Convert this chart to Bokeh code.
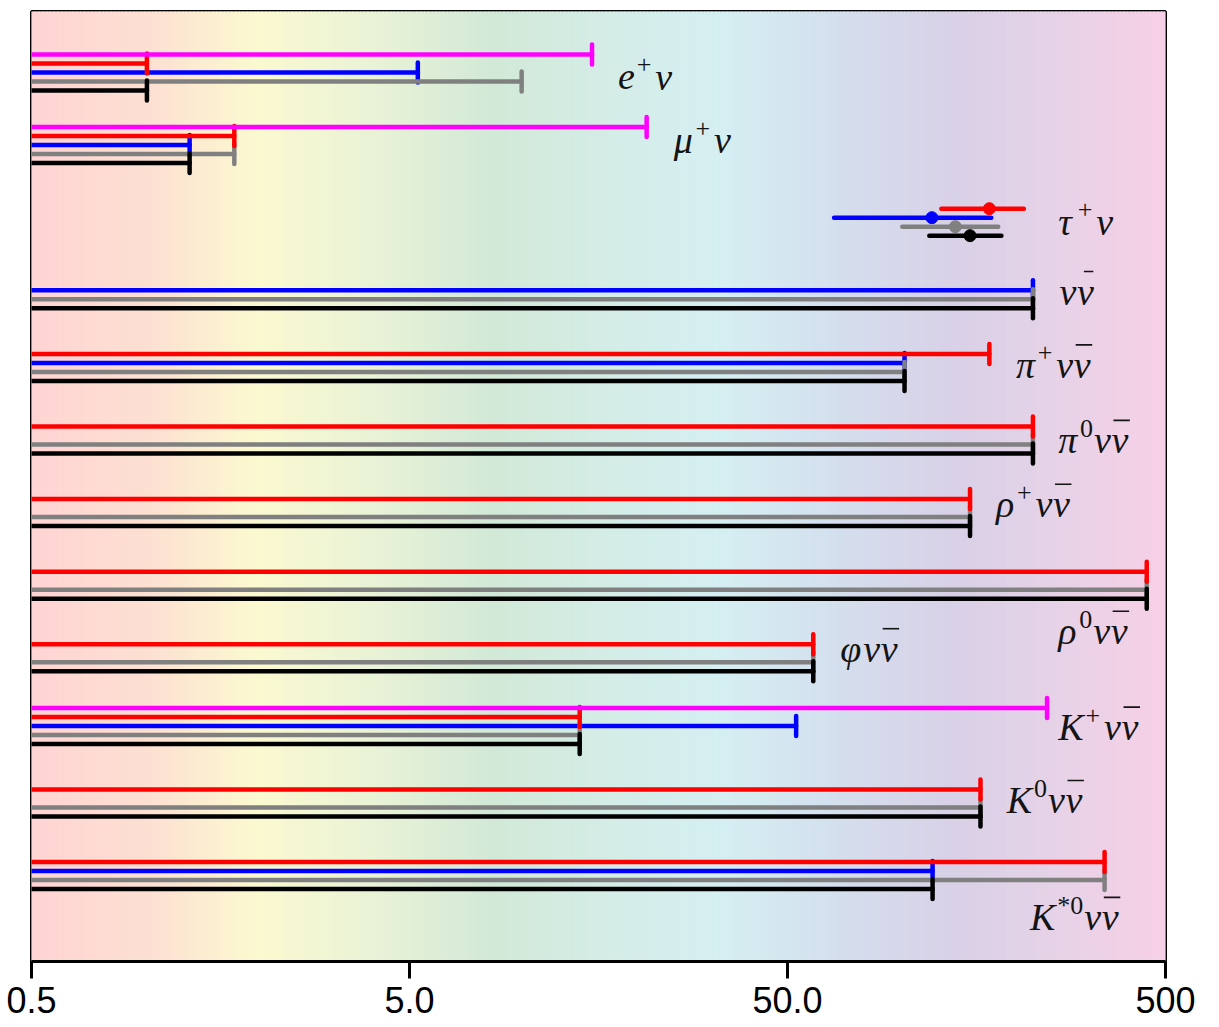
import numpy as np
from bokeh.plotting import figure
from bokeh.models import Range1d, FixedTicker, CustomJSTickFormatter
from bokeh.embed import file_html
from bokeh.resources import INLINE
from bokeh.core.properties import value

nan = float("nan")

# ---- data -------------------------------------------------------------
channels = ["e⁺ν", "μ⁺ν", "τ⁺ν", "νν̄", "π⁺νν̄", "π⁰νν̄",
            "ρ⁺νν̄", "ρ⁰νν̄", "φνν̄", "K⁺νν̄", "K⁰νν̄", "K*⁰νν̄"]
# label pieces: n = normal, s = superscript, b = overlined, m = short bar
label_parts = [
    [("e", "n"), ("+", "s"), ("ν", "n")],
    [("μ", "n"), ("+", "s"), ("ν", "n")],
    [("τ", "n"), ("+", "s"), ("ν", "n")],
    [("ν", "n"), ("ν", "m")],
    [("π", "n"), ("+", "s"), ("ν", "n"), ("ν", "b")],
    [("π", "n"), ("0", "s"), ("ν", "n"), ("ν", "b")],
    [("ρ", "n"), ("+", "s"), ("ν", "n"), ("ν", "b")],
    [("ρ", "n"), ("0", "s"), ("ν", "n"), ("ν", "b")],
    [("φ", "n"), ("ν", "n"), ("ν", "b")],
    [("K", "n"), ("+", "s"), ("ν", "n"), ("ν", "b")],
    [("K", "n"), ("0", "s"), ("ν", "n"), ("ν", "b")],
    [("K", "n"), ("*0", "s"), ("ν", "n"), ("ν", "b")],
]

# upper limits per channel for each series (nan = not shown)
limits_magenta = [15.2, 21.2, nan, nan, nan, nan, nan, nan, nan, 243, nan, nan]
limits_red     = [1.01, 1.72, nan, nan, 171, 223, 152, 446, 58.5, 14.1, 162, 345]
limits_blue    = [5.26, 1.31, nan, 223, 102, nan, nan, nan, nan, 52.7, nan, 121]
limits_gray    = [9.9, 1.72, nan, 223, 102, 223, 152, 446, 58.5, 14.1, 162, 345]
limits_black   = [1.01, 1.31, nan, 223, 102, 223, 152, 446, 58.5, 14.1, 162, 121]

# tau nu measurements (central, low, high) per series
tau_series  = ["red", "blue", "gray", "black"]
tau_central = [171, 120.5, 139, 152]
tau_low     = [127.6, 66.4, 100.6, 118.6]
tau_high    = [211, 173, 180.5, 184]

tick_values = [0.5, 5.0, 50.0, 500.0]
tick_labels = ["0.5", "5.0", "50.0", "500"]

# ---- layout / style ---------------------------------------------------
colors = {"magenta": "#ff00ff", "red": "#ff0000", "blue": "#0000ff",
          "gray": "#808080", "black": "#000000"}
slot = {"magenta": 0, "red": 1, "blue": 2, "gray": 3, "black": 4}
series = {"magenta": limits_magenta, "red": limits_red, "blue": limits_blue,
          "gray": limits_gray, "black": limits_black}
draw_order = ["blue", "gray", "black", "red", "magenta"]

W, H = 1211, 1027
BL, BR, BT, BB = 31, 46, 11, 66
FW, FH = W - BL - BR, H - BT - BB
XMIN, XMAX = 0.5, 500.0
YTOP, YBOT = -0.592, 12.493
PXD = FW / np.log10(XMAX / XMIN)      # pixels per decade
PXU = FH / (YBOT - YTOP)              # pixels per group unit
STEP = 9.0 / PXU
CAP = 10.0 / PXU
LW = 4.5

# label anchors (x in axis units, y offset in group units)
label_x  = [17.8, 25.0, 260, 262, 201, 260, 178, 260, 69, 260, 190, 219]
label_dy = [0.47, 0.35, 0.47, 0.43, 0.44, 0.48, 0.36, 1.11, 0.35, 0.43, 0.44, 1.05]
LABEL_LIFT = 12  # px

p = figure(width=W, height=H, x_axis_type="log",
           x_range=Range1d(XMIN, XMAX), y_range=Range1d(YBOT, YTOP),
           output_backend="svg", toolbar_location=None, y_axis_location=None,
           min_border_left=BL, min_border_right=BR, min_border_top=BT,
           min_border_bottom=BB)
p.grid.visible = False
p.background_fill_color = "white"
p.border_fill_color = "white"
p.outline_line_color = "black"
p.outline_line_width = 3

# background gradient (stops as fraction of frame width)
stops_f = [0.0, 0.105, 0.198, 0.299, 0.405, 0.520, 0.608, 0.705, 0.811, 0.908, 1.0]
stops_c = ["#ffd4d4", "#fde0d2", "#fbf9d0", "#eaf3d6", "#d2e9d7", "#d4ede8",
           "#d5eff2", "#d4e0ee", "#d8d1e7", "#e7d2e7", "#f7d0e6"]
rgb = np.array([[int(c[i:i + 2], 16) for i in (1, 3, 5)] for c in stops_c], float)
N = 300
edges = XMIN * (XMAX / XMIN) ** (np.arange(N + 1) / N)
mids = (np.arange(N) + 0.5) / N
cols = []
for m in mids:
    r = [np.interp(m, stops_f, rgb[:, k]) for k in range(3)]
    cols.append("#%02x%02x%02x" % tuple(int(round(v)) for v in r))
p.quad(left=edges[:-1], right=edges[1:] * 1.0005, bottom=YBOT, top=YTOP,
       fill_color=cols, line_color=cols, line_width=1)

# bars (upper limits)
for name in draw_order:
    vals = series[name]
    xs, ys = [], []
    for i, v in enumerate(vals):
        if not np.isnan(v):
            xs.append(v)
            ys.append(i + slot[name] * STEP)
    if not xs:
        continue
    ys = np.array(ys)
    p.segment(x0=[XMIN] * len(xs), y0=ys, x1=xs, y1=ys, line_color=colors[name],
              line_width=LW, line_cap="round")
    p.segment(x0=xs, y0=ys - CAP, x1=xs, y1=ys + CAP, line_color=colors[name],
              line_width=LW, line_cap="round")

# tau nu measurements
tau_idx = channels.index("τ⁺ν")
for k, name in enumerate(tau_series):
    y = tau_idx + slot[name] * STEP
    p.segment(x0=[tau_low[k]], y0=[y], x1=[tau_high[k]], y1=[y],
              line_color=colors[name], line_width=LW, line_cap="round")
    p.scatter(x=[tau_central[k]], y=[y], size=12, fill_color=colors[name],
              line_color=colors[name])

# channel labels, composed of pieces
BASE_SIZE, SUP_SIZE, SUP_RISE, BAR_RISE = 38, 26, 12, 20
ADV = {"e": 0.444, "μ": 0.52, "ν": 0.46, "τ": 0.46, "π": 0.52, "ρ": 0.5,
       "φ": 0.6, "K": 0.667, "*": 0.5, "+": 0.675, "0": 0.5}


def xshift(x, px):
    return x * 10 ** (px / PXD)


def yshift(y, px):
    return y - px / PXU


nx, ny, nt, sx, sy, st = [], [], [], [], [], []
bx0, bx1, by = [], [], []
for i, parts in enumerate(label_parts):
    x0 = label_x[i]
    y0 = yshift(i + label_dy[i], LABEL_LIFT)
    cur = 0.0
    for s, kind in parts:
        if kind == "s":
            cur += 2
            sx.append(xshift(x0, cur)); sy.append(yshift(y0, SUP_RISE)); st.append(s)
            cur += sum(ADV[c] for c in s) * SUP_SIZE + 1
        else:
            nx.append(xshift(x0, cur)); ny.append(y0); nt.append(s)
            w = sum(ADV[c] for c in s) * BASE_SIZE
            if kind == "b":
                bx0.append(xshift(x0, cur + 2)); bx1.append(xshift(x0, cur + w + 1))
                by.append(yshift(y0, BAR_RISE))
            elif kind == "m":
                bx0.append(xshift(x0, cur + 7)); bx1.append(xshift(x0, cur + w - 1))
                by.append(yshift(y0, BAR_RISE))
            cur += w

TXT = "#141414"
p.text(x=nx, y=ny, text=nt, text_font=value("Liberation Serif"),
       text_font_style="italic", text_font_size=f"{BASE_SIZE}px",
       text_baseline="alphabetic", text_align="left", text_color=TXT)
p.text(x=sx, y=sy, text=st, text_font=value("Liberation Serif"),
       text_font_style="normal", text_font_size=f"{SUP_SIZE}px",
       text_baseline="alphabetic", text_align="left", text_color=TXT)
p.segment(x0=bx0, y0=by, x1=bx1, y1=by, line_color=TXT, line_width=1.6)

# axis
ax = p.xaxis[0]
ax.ticker = FixedTicker(ticks=tick_values)
ax.formatter = CustomJSTickFormatter(
    args=dict(vals=tick_values, labs=tick_labels),
    code="for (let i=0;i<vals.length;i++){ if (Math.abs(tick-vals[i])/vals[i] < 1e-6) return labs[i]; } return '';")
ax.axis_line_width = 3
ax.axis_line_color = "black"
ax.major_tick_line_width = 3
ax.major_tick_line_color = "black"
ax.major_tick_out = 17
ax.major_tick_in = 0
ax.minor_tick_line_color = None
ax.major_label_text_font = "Liberation Sans"
ax.major_label_text_font_size = "36px"
ax.major_label_text_color = "black"
ax.major_label_standoff = 8

open("out.html", "w").write(file_html(p, INLINE))
